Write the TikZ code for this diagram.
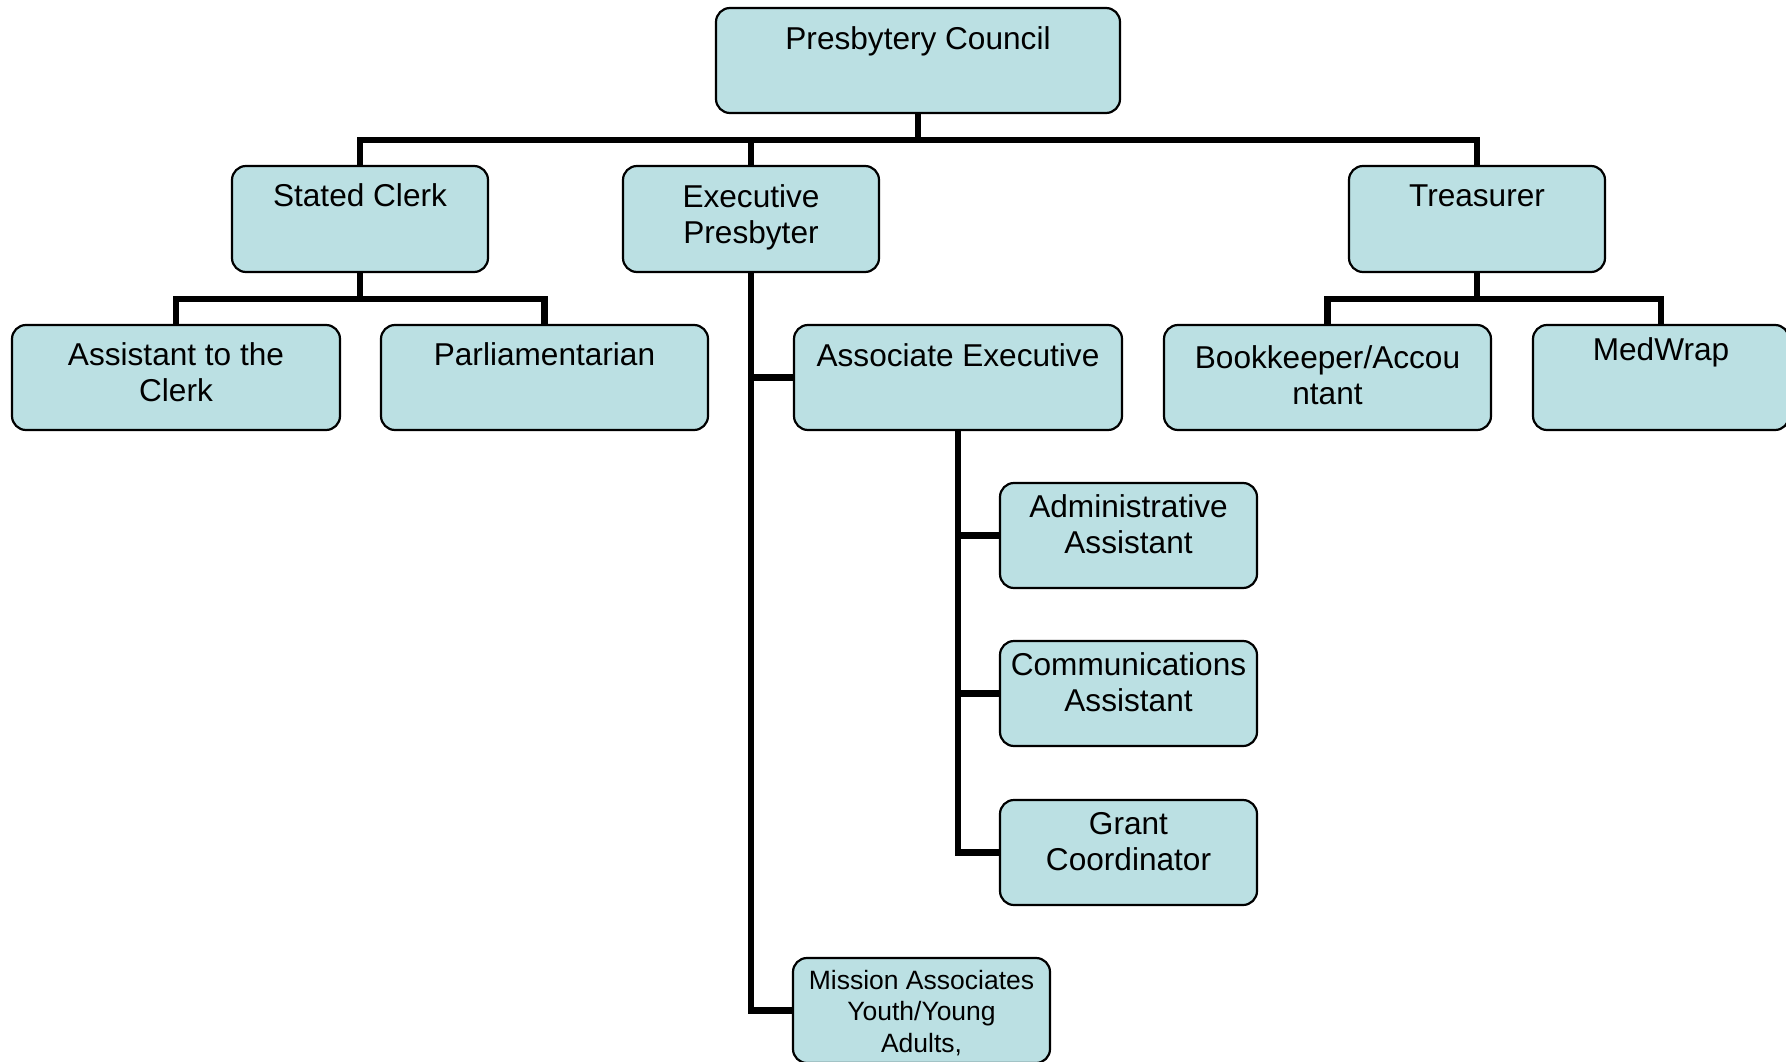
\documentclass[tikz,border=0pt]{standalone}
\usepackage{fontspec}
\setmainfont{Liberation Sans}
\definecolor{boxfill}{RGB}{187,224,227}
\newcommand{\ml}[1]{\begin{tabular}[t]{@{}c@{}}#1\end{tabular}}
\begin{document}
\begin{tikzpicture}[x=1pt,y=-1pt,
  box/.style={draw=black, line width=2.2pt, fill=boxfill, rounded corners=14pt,
    anchor=north west, outer sep=0pt, inner sep=0pt},
  txt/.style={anchor=base, inner sep=0pt, font=\fontsize{31.6}{36.5}\selectfont},
  stxt/.style={anchor=base, inner sep=0pt, font=\fontsize{26.5}{31.5}\selectfont},
  conn/.style={line width=6.5pt, line join=miter}]
\useasboundingbox (0,0) rectangle (1786,1062);

% boxes
\node[box, minimum width=404pt, minimum height=105pt] (pc) at (716,8) {};
\node[box, minimum width=256pt, minimum height=106pt] (sc) at (232,166) {};
\node[box, minimum width=256pt, minimum height=106pt] (ep) at (623,166) {};
\node[box, minimum width=256pt, minimum height=106pt] (tr) at (1349,166) {};
\node[box, minimum width=328pt, minimum height=105pt] (ac) at (12,325) {};
\node[box, minimum width=327pt, minimum height=105pt] (pa) at (381,325) {};
\node[box, minimum width=328pt, minimum height=105pt] (ae) at (794,325) {};
\node[box, minimum width=327pt, minimum height=105pt] (bk) at (1164,325) {};
\node[box, minimum width=256pt, minimum height=105pt] (mw) at (1533,325) {};
\node[box, minimum width=257pt, minimum height=105pt] (ad) at (1000,483) {};
\node[box, minimum width=257pt, minimum height=105pt] (co) at (1000,641) {};
\node[box, minimum width=257pt, minimum height=105pt] (gc) at (1000,800) {};
\node[box, minimum width=257pt, minimum height=105pt] (ma) at (793,958) {};

% texts
\node[txt] (pc-t) at ([yshift=-42pt]pc.north) {Presbytery Council};
\node[txt] (sc-t) at ([yshift=-40pt]sc.north) {Stated Clerk};
\node[txt] (ep-t) at ([yshift=-41pt]ep.north) {\ml{Executive\\Presbyter}};
\node[txt] (tr-t) at ([yshift=-40pt]tr.north) {Treasurer};
\node[txt] (ac-t) at ([yshift=-40pt]ac.north) {\ml{Assistant to the\\Clerk}};
\node[txt] (pa-t) at ([yshift=-40pt]pa.north) {Parliamentarian};
\node[txt] (ae-t) at ([yshift=-41pt]ae.north) {Associate Executive};
\node[txt] (bk-t) at ([yshift=-43pt]bk.north) {\ml{Bookkeeper/Accou\\ntant}};
\node[txt] (mw-t) at ([yshift=-35pt]mw.north) {MedWrap};
\node[txt] (ad-t) at ([yshift=-34pt]ad.north) {\ml{Administrative\\Assistant}};
\node[txt] (co-t) at ([yshift=-34pt]co.north) {\ml{Communications\\Assistant}};
\node[txt] (gc-t) at ([yshift=-34pt]gc.north) {\ml{Grant\\Coordinator}};
\node[stxt] (ma-t) at ([yshift=-31pt]ma.north) {\ml{Mission Associates\\Youth/Young\\Adults,}};

% bus coordinates
\coordinate (b1) at (918,140);
\coordinate (b2) at (360,299);
\coordinate (b3) at (1477,299);

% connectors
\draw[conn] (pc.south) -- (b1);
\draw[conn] (sc.north) |- (b1) -| (tr.north);
\draw[conn] (ep.north) -- (ep.north |- b1);
\draw[conn] (sc.south) -- (b2);
\draw[conn] (ac.north) |- (b2) -| (pa.north);
\draw[conn] (tr.south) -- (b3);
\draw[conn] (bk.north) |- (b3) -| (mw.north);
\draw[conn] (ep.south) |- (ma.west);
\draw[conn] (ep.south |- ae.west) -- (ae.west);
\draw[conn] (ae.south) |- (gc.west);
\draw[conn] (ae.south |- ad.west) -- (ad.west);
\draw[conn] (ae.south |- co.west) -- (co.west);
\end{tikzpicture}
\end{document}
